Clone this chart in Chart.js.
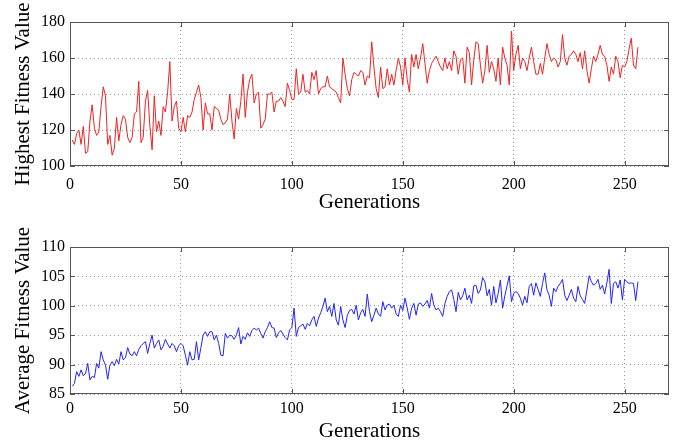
<!DOCTYPE html>
<html>
<head>
<meta charset="utf-8">
<title>Fitness per generation</title>
<script src="https://cdn.jsdelivr.net/npm/chart.js@4/dist/chart.umd.min.js"></script>
<style>
    html, body { margin: 0; padding: 0; background: #fff; }
    .panel { position: absolute; left: 0; width: 684px; height: 222px; }
</style>
</head>
<body>
<div class="panel" style="top:0"><canvas id="highestChart" width="684" height="222"></canvas></div>
<div class="panel" style="top:222px"><canvas id="averageChart" width="684" height="222"></canvas></div>
<script>
// Values, one per generation (1..256)
const highestFitness = [
    114.5,112,118,120,112,122,107,108,125,134,121,117,119,133,144,139,112,117,106,110,
    127,114,123,128,126,116,113,116,129,130,147,113,116,136,142,122,109,139,119,125,
    117,133,130,141,158,125,133,136,121,119,127,119,128,
    127,130,137,141,145,138,120,135,129,129,120,133,132,131,126,123,124,126,140,125,
    115,132,126,136,151,127,141,148,151,135,140,141,121,123,126,140,140,141,130,136,
    136,138,136,133,146,142,137,137,154,140,141,151,141,142,140,152,
    148,153,140,143,144,144,150,144,143,142,141,138,135,160,151,143,139,148,152,151,
    150,153,152,145,150,149,169,155,143,138,155,143,144,154,145,151,145,153,160,155,
    145,160,148,141,162,155,162,154,160,168,157,146,153,157,159,161,158,
    155,153,160,154,158,153,164,161,151,159,160,146,166,163,145,159,169,168,156,146,
    153,167,152,158,154,147,160,145,166,160,156,145,175,153,162,167,154,160,158,153,
    160,166,158,151,151,157,151,160,168,162,158,160,159,155,158,173,160,
    156,161,162,164,162,158,163,154,164,153,146,154,161,158,162,167,162,161,156,147,
    155,151,161,158,149,156,155,158,165,171,156,154,166
];

const averageFitness = [
    86.3,86.8,88.8,88,89.1,88.1,88.5,90.2,87.4,88,87.8,90.2,89.4,92.2,90.8,89.9,87.5,89.9,90.5,89.8,
    90.9,90.1,92.2,90.8,91.2,92.9,91.8,91.5,92.2,91.5,92.6,93.2,93.6,93.9,91.9,93.6,95.0,92.8,93.6,94.2,
    92.5,93.1,94.3,93.5,92.8,93.6,93.2,92.2,93.2,93.6,93.2,91.6,89.9,
    92.2,90.8,90.9,93.9,90.8,92.9,95.0,95.6,94.8,95.6,95.6,94.2,95.0,93.6,91.6,91.5,95.3,94.5,95.0,94.9,
    94.3,95.0,96.3,93.5,94.8,94.3,95.4,94.8,95.8,96.2,95.9,96.2,95.3,94.5,95.6,96.3,97.3,96.3,96.2,94.6,
    95.4,95.8,95.2,94.6,94.2,95.9,96.3,99.6,94.8,96.3,96.6,96.9,96.0,97.0,96.6,97.6,98.2,
    96.5,97.9,98.8,99.9,101.3,99.0,99.9,98.2,100.4,97.6,96.7,99.9,97.6,96.3,98.4,99.2,99.4,98.6,100.1,97.6,
    98.8,99.4,98.2,102.0,99.0,97.3,98.4,99.6,98.6,98.2,100.7,99.3,100.1,100.3,99.6,100.1,98.6,98.2,100.1,99.2,
    101.3,99.6,97.7,99.6,100.4,98.4,100.3,100.5,99.9,100.3,100.9,99.6,102.1,100.1,99.3,99.6,
    99.0,98.2,100.4,101.6,102.4,102.7,101.1,99.0,102.3,101.0,101.7,103.0,101.0,101.8,100.4,103.4,103.5,102.1,102.7,104.8,
    104.1,101.7,102.8,100.1,103.3,100.5,102.1,104.4,99.6,101.7,103.4,105.1,100.7,102.1,102.4,102.1,101.3,100.1,101.6,100.5,
    103.3,103.8,101.8,103.9,102.8,101.6,103.8,105.6,102.7,101.8,99.9,103.0,102.4,103.3,103.8,104.5,101.8,
    100.9,101.8,102.8,101.3,100.7,103.3,101.7,101.1,100.4,102.7,105.1,104.1,103.5,103.8,104.5,102.8,103.5,102.0,103.9,106.2,
    100.4,103.8,104.1,103.0,104.4,101.0,104.5,104.1,103.8,103.9,103.8,100.9,104.1
];

const xTicks = [0, 50, 100, 150, 200, 250];
const highestTicks = [100, 120, 140, 160, 180];
const averageTicks = [85, 90, 95, 100, 105, 110];

const tickFont = { family: 'Liberation Serif', size: 16 };
const titleFont = { family: 'Liberation Serif', size: 21 };
const frameColor = '#555';
const gridColor = '#9a9a9a';

// Full box round the plot area, with short inward tick marks (MATLAB look)
const framePlugin = {
    id: 'frame',
    afterDraw(chart) {
        const { ctx, chartArea: a, scales } = chart;
        ctx.save();
        ctx.strokeStyle = frameColor;
        ctx.lineWidth = 1;
        ctx.strokeRect(Math.round(a.left) + 0.5, Math.round(a.top) + 0.5,
            Math.round(a.width) - 1, Math.round(a.height) - 1);
        ctx.beginPath();
        scales.x.ticks.forEach(t => {
            const px = Math.round(scales.x.getPixelForValue(t.value)) + 0.5;
            ctx.moveTo(px, a.bottom); ctx.lineTo(px, a.bottom - 5);
            ctx.moveTo(px, a.top); ctx.lineTo(px, a.top + 5);
        });
        scales.y.ticks.forEach(t => {
            const py = Math.round(scales.y.getPixelForValue(t.value)) + 0.5;
            ctx.moveTo(a.left, py); ctx.lineTo(a.left + 5, py);
            ctx.moveTo(a.right, py); ctx.lineTo(a.right - 5, py);
        });
        ctx.stroke();
        ctx.restore();
    }
};

function makeChart(id, values, color, yLabel, yMin, yMax, yTicks, box) {
    const points = values.map((v, i) => ({ x: i + 1, y: v }));
    return new Chart(document.getElementById(id), {
        type: 'line',
        data: {
            datasets: [{
                data: points,
                borderColor: color,
                borderWidth: 1,
                pointRadius: 0,
                tension: 0,
                fill: false
            }]
        },
        options: {
            responsive: false,
            animation: false,
            layout: { padding: { top: box.top, right: 15, bottom: 0, left: 0 } },
            plugins: {
                legend: { display: false },
                tooltip: { enabled: false }
            },
            scales: {
                x: {
                    type: 'linear',
                    min: 0,
                    max: 270,
                    afterBuildTicks: s => { s.ticks = xTicks.map(v => ({ value: v })); },
                    afterFit: s => { s.height = box.xAxisHeight; },
                    grid: { color: gridColor, drawTicks: false },
                    border: { display: false, dash: [1, 3] },
                    ticks: { padding: box.tickPad, font: tickFont, color: '#000', maxRotation: 0 },
                    title: {
                        display: true,
                        text: 'Generations',
                        font: titleFont,
                        color: '#000',
                        padding: { top: 0, bottom: box.titlePad }
                    }
                },
                y: {
                    min: yMin,
                    max: yMax,
                    afterBuildTicks: s => { s.ticks = yTicks.map(v => ({ value: v })); },
                    afterFit: s => { s.width = 70; },
                    grid: { color: gridColor, drawTicks: false },
                    border: { display: false, dash: [1, 3] },
                    ticks: { padding: 5, font: tickFont, color: '#000' },
                    title: {
                        display: true,
                        text: yLabel,
                        font: titleFont,
                        color: '#000',
                        padding: { top: 11, bottom: 0 }
                    }
                }
            }
        },
        plugins: [framePlugin]
    });
}

makeChart('highestChart', highestFitness, '#ee2222', 'Highest Fitness Value', 100, 180, highestTicks,
    { top: 22, xAxisHeight: 56, tickPad: 9, titlePad: 7 });
makeChart('averageChart', averageFitness, '#2222ff', 'Average Fitness Value', 85, 110, averageTicks,
    { top: 25, xAxisHeight: 50, tickPad: 5, titlePad: 0 });
</script>
</body>
</html>
